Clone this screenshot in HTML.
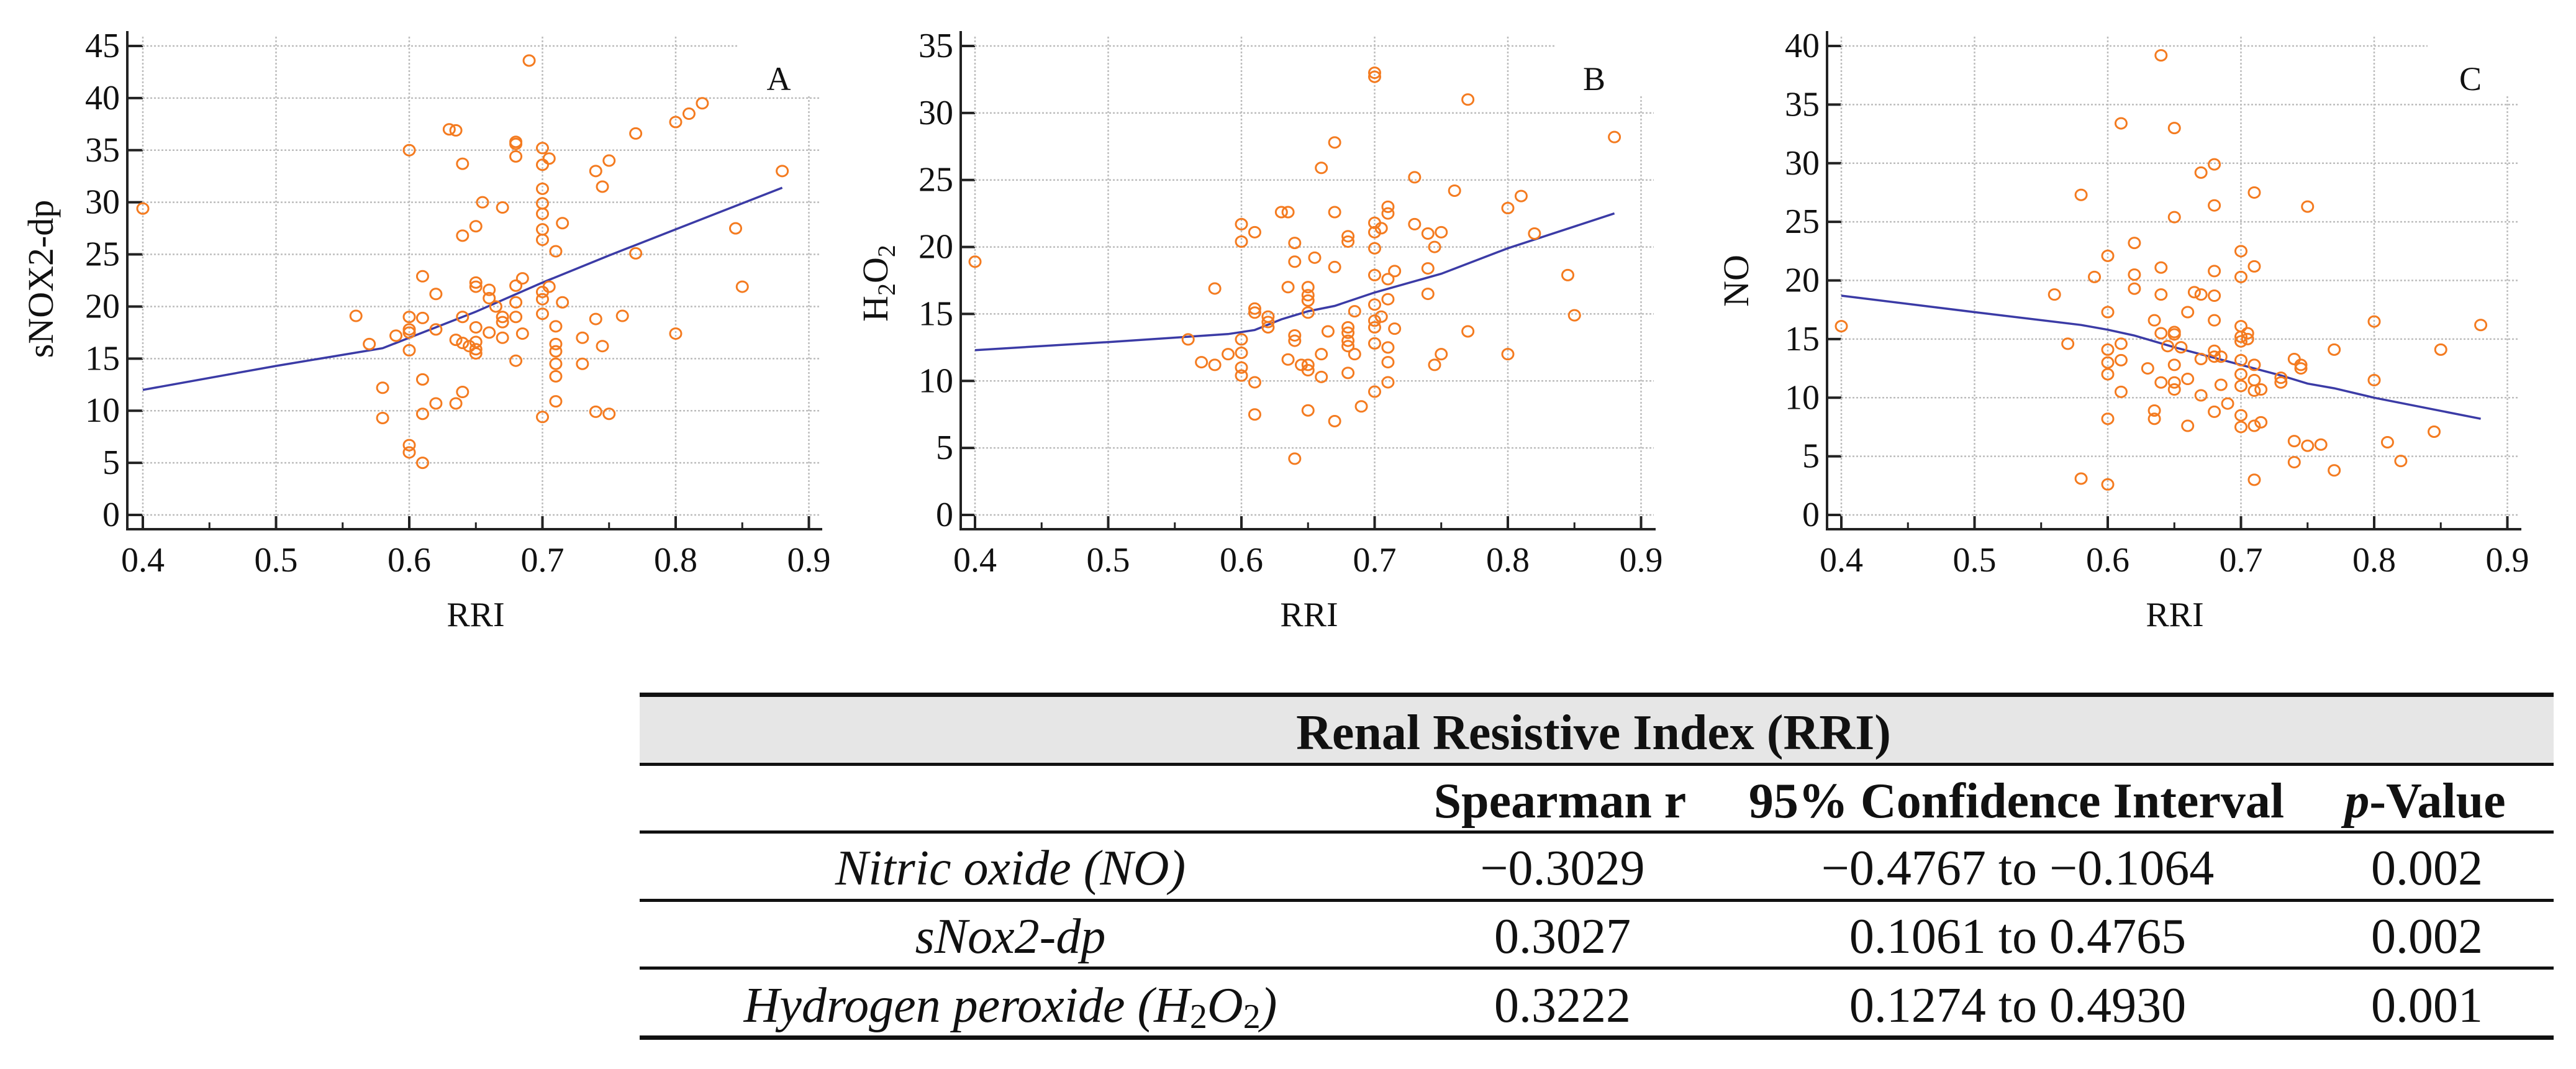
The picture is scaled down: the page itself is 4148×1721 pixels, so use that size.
<!DOCTYPE html>
<html><head><meta charset="utf-8"><style>
html,body{margin:0;padding:0;background:#fff;}
svg{display:block;}
text{font-family:"Liberation Serif",serif;fill:#111;}
</style></head><body>
<svg id="fig" width="4148" height="1721" viewBox="0 0 4148 1721" xmlns="http://www.w3.org/2000/svg">
<g id="plots"></g>
<g id="table">
  <rect x="1030" y="1118" width="3082" height="112" fill="#e6e6e6"/>
  <rect x="1030" y="1115" width="3082" height="7" fill="#111"/>
  <rect x="1030" y="1228" width="3082" height="5" fill="#111"/>
  <rect x="1030" y="1337" width="3082" height="5" fill="#111"/>
  <rect x="1030" y="1447" width="3082" height="5" fill="#111"/>
  <rect x="1030" y="1556" width="3082" height="5" fill="#111"/>
  <rect x="1030" y="1667" width="3082" height="7" fill="#111"/>
  <text x="2566" y="1206" font-size="80" font-weight="bold" text-anchor="middle">Renal Resistive Index (RRI)</text>
  <text x="2512" y="1316" font-size="80" font-weight="bold" text-anchor="middle">Spearman r</text>
  <text x="3247" y="1316" font-size="80" font-weight="bold" text-anchor="middle">95% Confidence Interval</text>
  <text x="3905" y="1316" font-size="80" font-weight="bold" text-anchor="middle"><tspan font-style="italic">p</tspan>-Value</text>
  <text x="1627" y="1424" font-size="80" font-style="italic" text-anchor="middle">Nitric oxide (NO)</text>
  <text x="2516" y="1424" font-size="80" text-anchor="middle">−0.3029</text>
  <text x="3249" y="1424" font-size="80" text-anchor="middle">−0.4767 to −0.1064</text>
  <text x="3908" y="1424" font-size="80" text-anchor="middle">0.002</text>
  <text x="1627" y="1534" font-size="80" font-style="italic" text-anchor="middle">sNox2-dp</text>
  <text x="2516" y="1534" font-size="80" text-anchor="middle">0.3027</text>
  <text x="3249" y="1534" font-size="80" text-anchor="middle">0.1061 to 0.4765</text>
  <text x="3908" y="1534" font-size="80" text-anchor="middle">0.002</text>
  <text x="1627" y="1645" font-size="80" font-style="italic" text-anchor="middle">Hydrogen peroxide (H<tspan font-style="normal" font-size="56" dy="10">2</tspan><tspan dy="-10">O</tspan><tspan font-style="normal" font-size="56" dy="10">2</tspan><tspan dy="-10">)</tspan></text>
  <text x="2516" y="1645" font-size="80" text-anchor="middle">0.3222</text>
  <text x="3249" y="1645" font-size="80" text-anchor="middle">0.1274 to 0.4930</text>
  <text x="3908" y="1645" font-size="80" text-anchor="middle">0.001</text>
</g>
</svg>
<script>
const xTicks = [0.4, 0.5, 0.6, 0.7, 0.8, 0.9];
const xTickLabels = ["0.4","0.5","0.6","0.7","0.8","0.9"];
const yTicksA = [0,5,10,15,20,25,30,35,40,45];
const yTicksB = [0,5,10,15,20,25,30,35];
const yTicksC = [0,5,10,15,20,25,30,35,40];

const xA = [0.40,0.56,0.57,0.58,0.58,0.59,0.60,0.60,0.60,0.60,0.60,0.60,0.60,0.61,0.61,0.61,0.61,0.61,0.62,0.62,0.62,0.63,0.635,0.635,0.635,0.64,0.64,0.64,0.64,0.64,0.645,0.65,0.65,0.65,0.65,0.65,0.65,0.65,0.655,0.66,0.66,0.66,0.665,0.67,0.67,0.67,0.67,0.68,0.68,0.68,0.68,0.68,0.68,0.68,0.685,0.685,0.69,0.70,0.70,0.70,0.70,0.70,0.70,0.70,0.70,0.70,0.70,0.70,0.705,0.705,0.71,0.71,0.71,0.71,0.71,0.71,0.71,0.715,0.715,0.73,0.73,0.74,0.74,0.74,0.745,0.745,0.75,0.75,0.76,0.77,0.77,0.80,0.80,0.81,0.82,0.845,0.85,0.88];
const yA = [29.4,19.1,16.4,12.2,9.3,17.2,35,19,17.8,17.5,15.8,6.7,6.0,22.9,18.9,13.0,9.7,5.0,21.2,17.8,10.7,37.0,36.9,16.8,10.7,33.7,26.8,19.0,16.5,11.8,16.2,27.7,22.3,21.9,18.0,16.6,15.9,15.5,30.0,21.6,20.8,17.5,20.0,29.5,19.0,18.5,17.0,35.8,35.6,34.4,22.0,20.4,19.0,14.8,22.7,17.4,43.6,35.2,33.6,31.3,29.9,28.9,27.4,26.4,21.4,20.7,19.3,9.4,34.2,21.9,25.3,18.1,16.4,15.7,14.5,13.3,10.9,28.0,20.4,17.0,14.5,33.0,18.8,9.9,31.5,16.2,34.0,9.7,19.1,36.6,25.1,37.7,17.4,38.5,39.5,27.5,21.9,33.0];
const fitXA = [0.4,0.5,0.58,0.6,0.65,0.7,0.75,0.8,0.88];
const fitYA = [12.0,14.3,16.0,17.0,19.5,22.3,24.9,27.4,31.4];

const xB = [0.40,0.56,0.57,0.58,0.58,0.59,0.60,0.60,0.60,0.60,0.60,0.60,0.61,0.61,0.61,0.61,0.61,0.62,0.62,0.62,0.63,0.635,0.635,0.635,0.64,0.64,0.64,0.64,0.64,0.645,0.65,0.65,0.65,0.65,0.65,0.65,0.65,0.655,0.66,0.66,0.66,0.665,0.67,0.67,0.67,0.67,0.68,0.68,0.68,0.68,0.68,0.68,0.68,0.685,0.685,0.69,0.70,0.70,0.70,0.70,0.70,0.70,0.70,0.70,0.70,0.70,0.70,0.705,0.705,0.71,0.71,0.71,0.71,0.71,0.71,0.71,0.715,0.715,0.73,0.73,0.74,0.74,0.74,0.745,0.745,0.75,0.75,0.76,0.77,0.77,0.80,0.80,0.81,0.82,0.845,0.85,0.88];
const yB = [18.9,13.1,11.4,16.9,11.2,12.0,21.7,20.4,13.1,12.1,11.0,10.4,21.1,15.4,15.1,9.9,7.5,14.8,14.4,14.0,22.6,22.6,17.0,11.6,20.3,18.9,13.4,13.0,4.2,11.2,17.0,16.4,16.0,15.1,11.2,10.8,7.8,19.2,25.9,12.0,10.3,13.7,27.8,22.6,18.5,7.0,20.8,20.4,14.0,13.6,13.0,12.6,10.6,15.2,12.0,8.1,33.0,32.7,21.8,21.1,19.9,17.9,15.7,14.5,14.0,12.8,9.2,21.4,14.8,23.0,22.5,17.6,16.1,12.5,11.4,9.9,18.2,13.9,25.2,21.7,21.0,18.4,16.5,20.0,11.2,21.1,12.0,24.2,31.0,13.7,22.9,12.0,23.8,21.0,17.9,14.9,28.2];
const fitXB = [0.4,0.5,0.59,0.61,0.63,0.65,0.67,0.7,0.75,0.8,0.88];
const fitYB = [12.3,12.9,13.5,13.8,14.6,15.2,15.6,16.6,18.0,19.9,22.5];

const xC = [0.40,0.56,0.57,0.58,0.58,0.59,0.60,0.60,0.60,0.60,0.60,0.60,0.60,0.61,0.61,0.61,0.61,0.62,0.62,0.62,0.63,0.635,0.635,0.635,0.64,0.64,0.64,0.64,0.64,0.645,0.65,0.65,0.65,0.65,0.65,0.65,0.65,0.655,0.66,0.66,0.66,0.665,0.67,0.67,0.67,0.67,0.68,0.68,0.68,0.68,0.68,0.68,0.68,0.68,0.685,0.685,0.69,0.70,0.70,0.70,0.70,0.70,0.70,0.70,0.70,0.70,0.70,0.705,0.705,0.71,0.71,0.71,0.71,0.71,0.71,0.71,0.715,0.715,0.73,0.73,0.74,0.74,0.74,0.745,0.745,0.75,0.75,0.76,0.77,0.77,0.80,0.80,0.81,0.82,0.845,0.85,0.88];
const yC = [16.1,18.8,14.6,27.3,3.1,20.3,22.1,17.3,14.1,13.0,12.0,8.2,2.6,33.4,14.6,13.2,10.5,23.2,20.5,19.3,12.5,16.6,8.9,8.2,39.2,21.1,18.8,15.5,11.3,14.4,33.0,25.4,15.6,15.4,12.8,11.3,10.7,14.3,17.3,11.6,7.6,19.0,29.2,18.8,13.3,10.2,29.9,26.4,20.8,18.7,16.6,14.0,13.5,8.8,13.5,11.1,9.5,22.5,20.3,16.1,15.2,14.8,13.2,12.0,11.0,8.5,7.5,15.5,15.0,27.5,21.2,12.8,11.5,10.6,7.6,3.0,10.7,7.9,11.7,11.3,13.3,6.3,4.5,12.8,12.5,26.3,5.9,6.0,14.1,3.8,16.5,11.5,6.2,4.6,7.1,14.1,16.2];
const fitXC = [0.4,0.5,0.58,0.6,0.62,0.65,0.68,0.7,0.73,0.75,0.77,0.8,0.88];
const fitYC = [18.7,17.3,16.2,15.8,15.3,14.3,13.4,12.8,11.9,11.2,10.8,10.0,8.2];

const NS = "http://www.w3.org/2000/svg";
function mk(tag, attrs, parent) {
  const e = document.createElementNS(NS, tag);
  for (const k in attrs) e.setAttribute(k, attrs[k]);
  parent.appendChild(e);
  return e;
}
const panels = [
  {id:"a", spine:205, x04:230, right:1324, yMax:45, yTicks:yTicksA, xs:xA, ys:yA, fx:fitXA, fy:fitYA, title:"sNOX2-dp", tX:67, tY:449, rriX:766, letter:"A", lX:1254, boxL:1188},
  {id:"b", spine:1547, x04:1570, right:2666, yMax:35, yTicks:yTicksB, xs:xB, ys:yB, fx:fitXB, fy:fitYB, title:"H2O2", tX:1411, tY:456, rriX:2108, letter:"B", lX:2567, boxL:2505},
  {id:"c", spine:2942, x04:2965, right:4060, yMax:40, yTicks:yTicksC, xs:xC, ys:yC, fx:fitXC, fy:fitYC, title:"NO", tX:2797, tY:452, rriX:3502, letter:"C", lX:3978, boxL:3909}
];
const root = document.getElementById("plots");
const Y0 = 829, YTOP = 74, AXY = 852;
panels.forEach(p => {
  const g = mk("g", {}, root);
  
  
  const sx = v => p.x04 + (v - 0.4) * 2145;
  const sy = v => Y0 - v * (Y0 - YTOP) / p.yMax;
  p.yTicks.forEach(t => {
    const gl = mk("line", {x1:p.x04, x2:p.right-3, y1:sy(t), y2:sy(t), stroke:"#bdbdbd", "stroke-width":2.5, "stroke-dasharray":"3,3"}, g);
    
    
    const tk = mk("line", {x1:p.spine, x2:p.x04, y1:sy(t), y2:sy(t), stroke:"#222", "stroke-width":4}, g);
    
    
    const tl = mk("text", {x:p.spine-12, y:sy(t)+18, "font-size":56, "text-anchor":"end"}, g);
    tl.textContent = String(t);
    
    
  });
  xTicks.forEach((t, i) => {
    const gl = mk("line", {x1:sx(t), x2:sx(t), y1:YTOP-15, y2:Y0, stroke:"#bdbdbd", "stroke-width":2.5, "stroke-dasharray":"3,3"}, g);
    
    
    const tk = mk("line", {x1:sx(t), x2:sx(t), y1:AXY, y2:AXY-21, stroke:"#222", "stroke-width":4}, g);
    
    
    if (i < xTicks.length - 1) {
      const mt = mk("line", {x1:sx(t+0.05), x2:sx(t+0.05), y1:AXY, y2:AXY-11, stroke:"#222", "stroke-width":3}, g);
      
      
    }
    const tl = mk("text", {x:sx(t), y:920, "font-size":56, "text-anchor":"middle"}, g);
    tl.textContent = xTickLabels[i];
    
    
  });
  const bx = mk("rect", {x:p.boxL, y:42, width:p.right-p.boxL+4, height:112, fill:"#fff"}, g);
  
  
  const lt = mk("text", {x:p.lX, y:145, "font-size":54, "text-anchor":"middle"}, g);
  lt.textContent = p.letter;
  
  
  const ys = mk("line", {x1:p.spine, x2:p.spine, y1:50, y2:AXY+2, stroke:"#222", "stroke-width":4}, g);
  
  
  const xsL = mk("line", {x1:p.spine-2, x2:p.right, y1:AXY, y2:AXY, stroke:"#222", "stroke-width":4}, g);
  
  
  const pts = p.fx.map((v, i) => sx(v).toFixed(1) + "," + sy(p.fy[i]).toFixed(1)).join(" ");
  const fl = mk("polyline", {points:pts, fill:"none", stroke:"#3b3ba6", "stroke-width":3.5}, g);
  
  
  p.xs.forEach((v, i) => {
    const c = mk("ellipse", {cx:sx(v), cy:sy(p.ys[i]), rx:9, ry:8.5, fill:"none", stroke:"#f47b20", "stroke-width":3}, g);
    
    
  });
  const rt = mk("text", {x:p.rriX, y:1008, "font-size":56, "text-anchor":"middle"}, g);
  rt.textContent = "RRI";
  
  
  const yt = mk("text", {x:p.tX+18, y:p.tY, "font-size":58, "text-anchor":"middle", transform:"rotate(-90 " + (p.tX+18) + " " + p.tY + ")"}, g);
  if (p.title === "H2O2") {
    yt.innerHTML = 'H<tspan font-size="40" dy="12">2</tspan><tspan dy="-12">O</tspan><tspan font-size="40" dy="12">2</tspan>';
  } else {
    yt.textContent = p.title;
  }
  
  
});
</script>
</body></html>
